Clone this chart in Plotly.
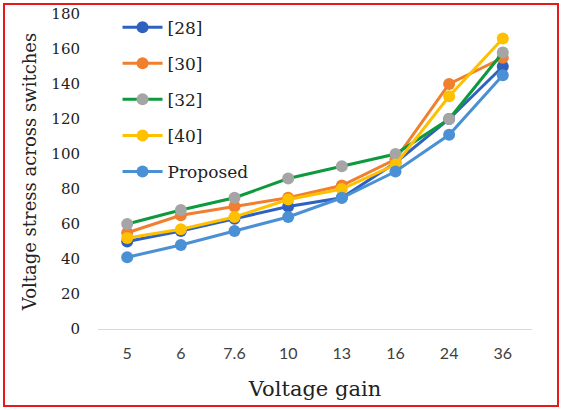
import plotly.graph_objects as go

categories = ["5", "6", "7.6", "10", "13", "16", "24", "36"]
s28 = [50, 56, 63, 70, 75, 95, 120, 150]
s30 = [55, 65, 70, 75, 82, 97, 140, 155]
s32 = [60, 68, 75, 86, 93, 100, 120, 158]
s40 = [52, 57, 64, 74, 80, 94, 133, 166]
proposed = [41, 48, 56, 64, 75, 90, 111, 145]
y_ticks = [0, 20, 40, 60, 80, 100, 120, 140, 160, 180]

series = [
    ("[28]", s28, "#2F62C0", "#2F62C0"),
    ("[30]", s30, "#F07F2E", "#F07F2E"),
    ("[32]", s32, "#0E9A3C", "#A5A5A5"),
    ("[40]", s40, "#FFC000", "#FFC000"),
    ("Proposed", proposed, "#4A90D4", "#4A90D4"),
]

fig = go.Figure()
for i, (name, vals, lc, mc) in enumerate(series):
    fig.add_trace(go.Scatter(
        x=categories, y=vals, name=name, mode="lines+markers",
        line=dict(color=lc, width=3),
        marker=dict(color=mc, size=12),
        legendgroup=f"g{i}",
    ))

W, H = 562, 410
ml, mr, mt, mb = 98, 30, 14, 81
pw, ph = W - ml - mr, H - mt - mb

def px_x(p):
    return (p - ml) / pw

def px_y(p):
    return (H - mb - p) / ph

fig.update_layout(
    width=W, height=H,
    margin=dict(l=ml, r=mr, t=mt, b=mb, autoexpand=False),
    paper_bgcolor="white", plot_bgcolor="white",
    showlegend=True,
    legend=dict(
        x=0.045, y=1.014, xanchor="left", yanchor="top",
        font=dict(family="DejaVu Serif", size=17, color="#222222"),
        tracegroupgap=11, traceorder="grouped", itemwidth=40,
        bgcolor="rgba(0,0,0,0)",
    ),
    xaxis=dict(
        type="category", showgrid=False, showline=True, linecolor="#D9D9D9",
        linewidth=1, ticks="", tickfont=dict(family="Lato", size=16, color="#404040"),
        title=dict(text="Voltage gain", font=dict(family="DejaVu Serif", size=21, color="#222222"), standoff=20),
        zeroline=False, ticklabelstandoff=10,
    ),
    yaxis=dict(
        range=[0, 180], tickvals=y_ticks, showgrid=False, showline=False, zeroline=False,
        ticks="", tickfont=dict(family="DejaVu Serif", size=15, color="#222222"),
        ticklabelstandoff=17,
        title=dict(text="Voltage stress across switches", font=dict(family="DejaVu Serif", size=18, color="#222222"), standoff=10),
    ),
    shapes=[dict(
        type="rect", xref="paper", yref="paper",
        x0=px_x(4), x1=px_x(558), y0=px_y(406), y1=px_y(4),
        line=dict(color="#E8191A", width=2), fillcolor="rgba(0,0,0,0)", layer="below",
    )],
)

fig.write_html("out.html")
